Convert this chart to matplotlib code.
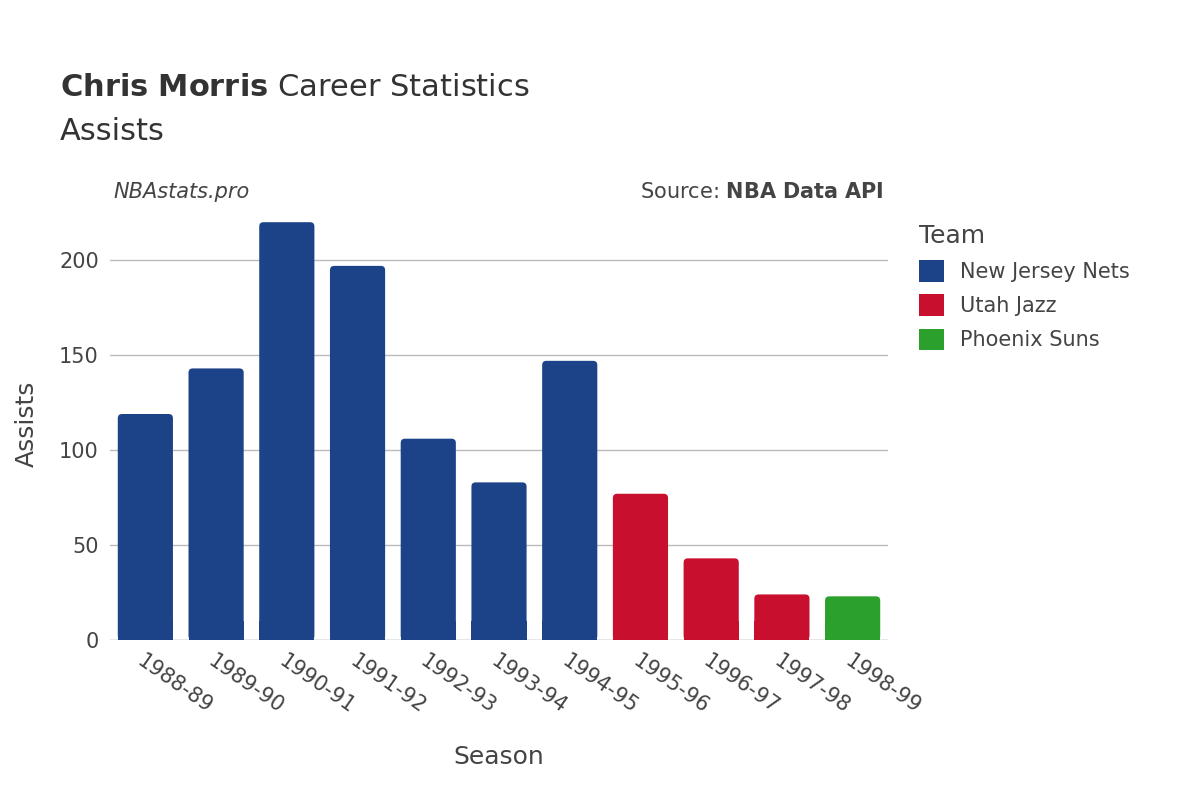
import matplotlib.pyplot as plt
from matplotlib.patches import FancyBboxPatch, Patch

seasons = ["1988-89", "1989-90", "1990-91", "1991-92", "1992-93", "1993-94",
           "1994-95", "1995-96", "1996-97", "1997-98", "1998-99"]
assists = [119, 143, 220, 197, 106, 83, 147, 77, 43, 24, 23]
teams = ["New Jersey Nets"] * 7 + ["Utah Jazz"] * 3 + ["Phoenix Suns"]
team_colors = {"New Jersey Nets": "#1c4388", "Utah Jazz": "#c8102e",
               "Phoenix Suns": "#2ca02c"}

fig = plt.figure(figsize=(12, 8), dpi=100)
ax = fig.add_axes([110 / 1200, 0.2, 778 / 1200, (640 - 207) / 800])
ax.set_xlim(-0.5, len(seasons) - 0.5)
ax.set_ylim(0, 228)

x_px = 778 / len(seasons)
y_px = 1.9
for i, (v, t) in enumerate(zip(assists, teams)):
    w = 0.78
    ax.add_patch(FancyBboxPatch((i - w / 2, 0), w, v,
                                boxstyle="round,pad=0,rounding_size=0.06",
                                mutation_aspect=x_px / y_px,
                                fc=team_colors[t], ec="none", zorder=3))
    ax.add_patch(plt.Rectangle((i - w / 2, 0), w, min(v, 10),
                               fc=team_colors[t], ec="none", zorder=3))

ax.set_yticks([0, 50, 100, 150, 200])
ax.grid(axis="y", color="#bbbbbb", lw=1, zorder=0)
ax.set_xticks(range(len(seasons)))
ax.set_xticklabels(seasons, rotation=-35, ha="left", rotation_mode="anchor")
ax.tick_params(length=0, labelsize=15, labelcolor="#444444", pad=8)
for s in ax.spines.values():
    s.set_visible(False)
ax.axhline(0, color="#e6e6e6", lw=2, zorder=2)
ax.set_xlabel("Season", fontsize=18, color="#444444", labelpad=20)
ax.set_ylabel("Assists", fontsize=18, color="#444444", labelpad=15)

fig.text(60 / 1200, 1 - 88 / 800, r"$\bf{Chris\ Morris}$ Career Statistics",
         fontsize=22, color="#333333", va="center")
fig.text(60 / 1200, 1 - 132 / 800, "Assists", fontsize=22, color="#333333",
         va="center")
fig.text(113 / 1200, 1 - 192 / 800, "NBAstats.pro", fontsize=15,
         style="italic", color="#444444", va="center")
fig.text(884 / 1200, 1 - 192 / 800, r"Source: $\bf{NBA\ Data\ API}$",
         fontsize=15, color="#444444", va="center", ha="right")

handles = [Patch(fc=c, ec="none") for c in team_colors.values()]
leg = fig.legend(handles, list(team_colors.keys()), loc="upper left",
                 bbox_to_anchor=(900 / 1200, 1 - 205 / 800), frameon=False,
                 title="Team", fontsize=15, title_fontsize=18,
                 handlelength=1.2, handleheight=1.2, labelspacing=0.6)
leg._legend_box.align = "left"
for t in leg.get_texts():
    t.set_color("#444444")
leg.get_title().set_color("#444444")

fig.savefig("out.png", dpi=100)
